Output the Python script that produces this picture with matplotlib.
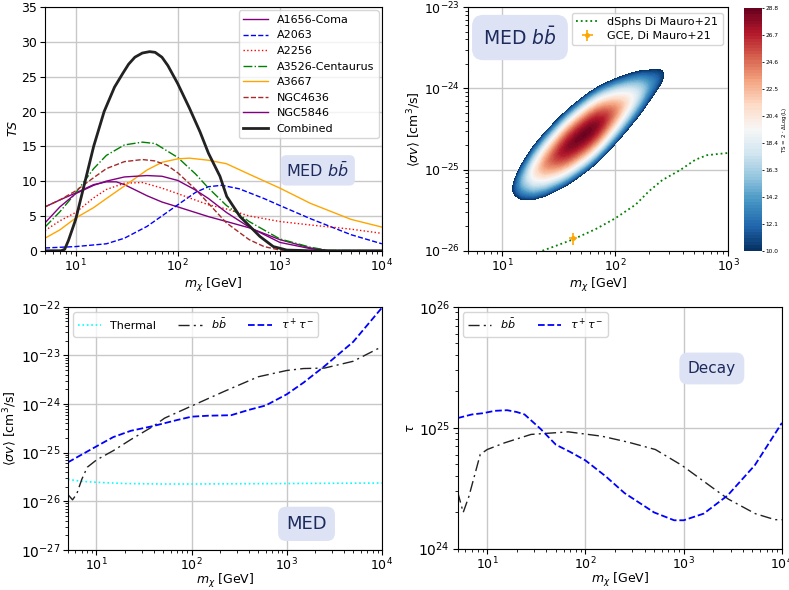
import numpy as np
import matplotlib.pyplot as plt

# ================= DATA =================

# top left: TS per cluster, MED b-bbar
coma_mass = [5, 7, 10, 15, 20, 25, 30, 40, 50, 70, 100, 200, 300, 500, 1000, 2000, 3000, 1e4]
coma_ts = [6.3, 7.3, 8.3, 9.5, 9.9, 9.9, 9.5, 8.6, 7.9, 7.0, 6.3, 4.9, 4.2, 3.3, 1.6, 0.4, 0.0, 0.0]

a2063_mass = [5, 10, 20, 30, 50, 70, 100, 150, 200, 270, 400, 700, 1000, 2000, 5000, 1e4]
a2063_ts = [0.4, 0.6, 1.0, 1.8, 3.5, 5.0, 6.6, 8.4, 9.2, 9.4, 8.9, 7.5, 6.5, 4.6, 2.3, 1.0]

a2256_mass = [5, 7, 10, 15, 20, 30, 45, 70, 100, 200, 300, 500, 1000, 2000, 5000, 1e4]
a2256_ts = [2.9, 4.3, 5.5, 7.6, 8.8, 9.7, 9.8, 9.0, 8.2, 6.6, 6.0, 5.0, 4.2, 3.7, 3.1, 2.5]

a3526_mass = [5, 7, 10, 15, 20, 30, 45, 60, 100, 150, 200, 300, 500, 1000, 2000, 3000, 1e4]
a3526_ts = [3.4, 5.6, 8.3, 11.8, 13.7, 15.2, 15.6, 15.4, 13.4, 11.0, 9.0, 6.5, 4.2, 1.7, 0.5, 0.05, 0.0]

a3667_mass = [5, 7, 10, 15, 20, 30, 50, 70, 100, 130, 200, 300, 500, 1000, 2000, 5000, 1e4]
a3667_ts = [1.8, 3.0, 4.7, 6.2, 7.5, 9.3, 11.6, 12.7, 13.2, 13.3, 13.0, 12.5, 11.0, 9.0, 6.8, 4.5, 3.4]

ngc4636_mass = [5, 7, 10, 15, 20, 30, 45, 60, 80, 100, 150, 200, 300, 500, 700, 1000, 1500, 1e4]
ngc4636_ts = [6.3, 7.3, 8.6, 10.5, 11.8, 12.8, 13.1, 12.9, 12.2, 11.2, 8.8, 6.8, 4.0, 1.6, 0.6, 0.1, 0.0, 0.0]

ngc5846_mass = [5, 7, 10, 15, 20, 30, 50, 70, 100, 150, 200, 300, 500, 1000, 2000, 3000, 1e4]
ngc5846_ts = [4.0, 6.3, 8.2, 9.4, 10.0, 10.6, 10.8, 10.7, 10.1, 8.7, 7.5, 5.5, 3.4, 1.2, 0.3, 0.0, 0.0]

comb_mass = [5, 7.2, 7.8, 8.5, 10, 12, 15, 19, 24, 29, 33, 38, 45, 53, 60, 70, 80, 100, 130, 165, 200,
             259, 302, 408, 509, 638, 863, 1170, 2000, 1e4]
comb_ts = [0.0, 0.0, 0.2, 1.5, 4.5, 9.2, 15.0, 20.0, 23.5, 25.5, 26.8, 27.8, 28.4, 28.6, 28.5, 27.8, 26.6,
           24.0, 20.5, 17.1, 14.0, 10.7, 7.8, 4.9, 3.5, 2.05, 0.6, 0.1, 0.0, 0.0]

# top right: best fit ridge of the TS map (log10 mass, log10 sigma v)
ridge_logm = 1.68
ridge_logsv = -24.62
ridge_slope = 1.05
ridge_width = 0.085
ridge_power = 1.7
ts_min, ts_max = 10.0, 28.8
map_mass_max = 280

dsph_mass = [22.8, 30, 42.5, 67, 100, 152, 199, 261, 378, 512, 646, 800, 1000]
dsph_sv = [1.0e-26, 1.15e-26, 1.38e-26, 1.84e-26, 2.5e-26, 3.7e-26, 5.4e-26, 7.4e-26,
           9.9e-26, 1.32e-25, 1.5e-25, 1.55e-25, 1.6e-25]

gce_mass = [42.5]
gce_sv = [1.42e-26]
gce_mass_err = [3.5]
gce_sv_err = [0.25e-26]

# bottom left: annihilation limits (log10 <sigma v>)
thermal_mass = [5, 7, 10, 20, 50, 100, 1000, 1e4]
thermal_logsv = [-25.55, -25.59, -25.61, -25.635, -25.645, -25.645, -25.635, -25.625]

ann_bb_mass = [5, 5.6, 6.2, 7, 8, 10, 15, 23, 40, 52, 100, 220, 500, 1000, 1500, 2500, 5000, 1e4]
ann_bb_logsv = [-25.86, -25.97, -25.85, -25.55, -25.30, -25.15, -24.96, -24.73, -24.45, -24.29,
                -24.04, -23.74, -23.44, -23.31, -23.27, -23.26, -23.12, -22.82]

ann_tau_mass = [5, 10, 15, 23, 40, 70, 100, 150, 260, 400, 600, 1000, 1500, 2500, 5000, 1e4]
ann_tau_logsv = [-25.2, -24.87, -24.68, -24.55, -24.45, -24.33, -24.26, -24.24, -24.23, -24.12,
                 -24.03, -23.80, -23.56, -23.22, -22.72, -22.02]

# bottom right: decay lifetime limits (log10 tau)
dec_bb_mass = [5, 5.7, 6.5, 8.5, 10, 15, 28, 67, 147, 275, 515, 955, 2000, 2850, 5350, 8500, 1e4]
dec_bb_logtau = [24.47, 24.30, 24.43, 24.78, 24.82, 24.875, 24.945, 24.966, 24.93, 24.88, 24.82,
                 24.69, 24.50, 24.41, 24.29, 24.24, 24.24]

dec_tau_mass = [5, 7, 9, 12, 16, 20, 24, 35, 50, 70, 100, 160, 250, 500, 800, 1000, 1600, 2800, 5300, 1e4]
dec_tau_logtau = [25.08, 25.11, 25.12, 25.14, 25.145, 25.13, 25.11, 24.99, 24.86, 24.80, 24.73, 24.60,
                  24.46, 24.30, 24.235, 24.235, 24.29, 24.44, 24.69, 25.04]

# ================= STYLE =================

GRID = "#c8c8c8"
NAVY = "#1c2a5c"
MX = r"$m_\chi$ [GeV]"
SV = r"$\langle\sigma v\rangle$ [cm$^3$/s]"
DASHDOT = (0, (8, 3, 1.5, 3))


def box(pad):
    return dict(boxstyle="round,pad=%s" % pad, facecolor="#dde3f5", edgecolor="none")


def style_axes(ax, xsize=9, ysize=10):
    ax.grid(True, which="major", color=GRID, lw=1)
    ax.tick_params(axis="x", labelsize=xsize, pad=1.5)
    ax.tick_params(axis="y", labelsize=ysize, pad=2)
    ax.set_axisbelow(True)


fig = plt.figure(figsize=(7.89, 5.9), dpi=100)

# ================= TOP LEFT =================

ax1 = fig.add_axes([0.057, 0.575, 0.427, 0.413])
ax1.plot(coma_mass, coma_ts, color="purple", lw=1, label="A1656-Coma")
ax1.plot(a2063_mass, a2063_ts, color="blue", ls="--", lw=1, label="A2063")
ax1.plot(a2256_mass, a2256_ts, color="red", ls=":", lw=1, label="A2256")
ax1.plot(a3526_mass, a3526_ts, color="green", ls="-.", lw=1, label="A3526-Centaurus")
ax1.plot(a3667_mass, a3667_ts, color="orange", lw=1, label="A3667")
ax1.plot(ngc4636_mass, ngc4636_ts, color="brown", ls="--", lw=1, label="NGC4636")
ax1.plot(ngc5846_mass, ngc5846_ts, color="purple", lw=1, label="NGC5846")
ax1.plot(comb_mass, comb_ts, color="#222222", lw=2, label="Combined")
ax1.set_xscale("log")
ax1.set_xlim(5, 1e4)
ax1.set_ylim(0, 35)
ax1.set_xlabel(MX, fontsize=9, labelpad=1)
ax1.set_ylabel(r"$TS$", fontsize=9, labelpad=1)
style_axes(ax1, 9, 9)
ax1.legend(loc="upper right", fontsize=8, handlelength=2.2, labelspacing=0.5, borderaxespad=0.3)
ax1.text(0.81, 0.33, r"MED $b\bar{b}$", transform=ax1.transAxes, fontsize=11.5,
         color=NAVY, ha="center", va="center", bbox=box(0.35))

# ================= TOP RIGHT =================

ax2 = fig.add_axes([0.593, 0.575, 0.330, 0.413])
mgrid = np.logspace(np.log10(5), np.log10(map_mass_max), 300)
sgrid = np.logspace(-26, -23, 300)
M, S = np.meshgrid(mgrid, sgrid)
U, V = np.log10(M), np.log10(S)
ts_profile = np.interp(U, np.log10(comb_mass), comb_ts)
ridge = ridge_logsv + ridge_slope * (U - ridge_logm)
TS = ts_profile - (np.abs(V - ridge) / ridge_width) ** ridge_power
cf = ax2.contourf(M, S, TS, levels=np.linspace(ts_min, ts_max, 80), cmap="RdBu_r")
ax2.plot(dsph_mass, dsph_sv, color="green", ls=":", lw=1.3, label="dSphs Di Mauro+21")
ax2.errorbar(gce_mass, gce_sv, xerr=gce_mass_err, yerr=gce_sv_err, fmt=".", color="orange",
             ms=5, elinewidth=1.2, label="GCE, Di Mauro+21")
ax2.set_xscale("log")
ax2.set_yscale("log")
ax2.set_xlim(5, 1e3)
ax2.set_ylim(1e-26, 1e-23)
ax2.set_xlabel(MX, fontsize=9, labelpad=1)
ax2.set_ylabel(SV, fontsize=9, labelpad=1)
style_axes(ax2, 9, 9)
ax2.legend(loc="upper right", fontsize=8, handlelength=2.0, handleheight=0.6,
           labelspacing=0.35, handletextpad=0.8)
ax2.text(0.2, 0.875, r"MED $b\bar{b}$", transform=ax2.transAxes, fontsize=13.5,
         color=NAVY, ha="center", va="center", bbox=box(0.6))

cax = fig.add_axes([0.943, 0.575, 0.023, 0.411])
cb = fig.colorbar(cf, cax=cax, ticks=np.linspace(ts_min, ts_max, 10), format="%.1f")
cb.ax.tick_params(labelsize=4.2, length=1.5, width=0.6, pad=1)
cb.set_label(r"TS = 2 $\cdot$ $\Delta$Log(L)", fontsize=4, labelpad=1)
cb.outline.set_visible(False)

# ================= BOTTOM LEFT =================

ax3 = fig.add_axes([0.086, 0.068, 0.398, 0.412])
ax3.plot(thermal_mass, 10.0 ** np.array(thermal_logsv), color="cyan", ls=":", lw=1.2, label="Thermal")
ax3.plot(ann_bb_mass, 10.0 ** np.array(ann_bb_logsv), color="#222222", ls=DASHDOT, lw=1,
         label=r"$b\bar{b}$")
ax3.plot(ann_tau_mass, 10.0 ** np.array(ann_tau_logsv), color="blue", ls="--", lw=1.3,
         label=r"$\tau^+\tau^-$")
ax3.set_xscale("log")
ax3.set_yscale("log")
ax3.set_xlim(5, 1e4)
ax3.set_ylim(1e-27, 1e-22)
ax3.set_xlabel(MX, fontsize=9, labelpad=-1)
ax3.set_ylabel(SV, fontsize=9, labelpad=1)
style_axes(ax3, 9, 10)
ax3.legend(loc="upper left", ncol=3, fontsize=8, handlelength=2.1, columnspacing=2.0)
ax3.text(0.76, 0.107, "MED", transform=ax3.transAxes, fontsize=13,
         color=NAVY, ha="center", va="center", bbox=box(0.45))

# ================= BOTTOM RIGHT =================

ax4 = fig.add_axes([0.580, 0.070, 0.411, 0.410])
ax4.plot(dec_bb_mass, 10.0 ** np.array(dec_bb_logtau), color="#222222", ls=DASHDOT, lw=1,
         label=r"$b\bar{b}$")
ax4.plot(dec_tau_mass, 10.0 ** np.array(dec_tau_logtau), color="blue", ls="--", lw=1.3,
         label=r"$\tau^+\tau^-$")
ax4.set_xscale("log")
ax4.set_yscale("log")
ax4.set_xlim(5, 1e4)
ax4.set_ylim(1e24, 1e26)
ax4.set_xlabel(MX, fontsize=9, labelpad=-1)
ax4.set_ylabel(r"$\tau$", fontsize=9, labelpad=1)
style_axes(ax4, 9, 10)
ax4.legend(loc="upper left", ncol=2, fontsize=8, handlelength=2.1, columnspacing=2.0)
ax4.text(0.784, 0.745, "Decay", transform=ax4.transAxes, fontsize=11,
         color=NAVY, ha="center", va="center", bbox=box(0.55))

fig.savefig("out.png", dpi=100)
